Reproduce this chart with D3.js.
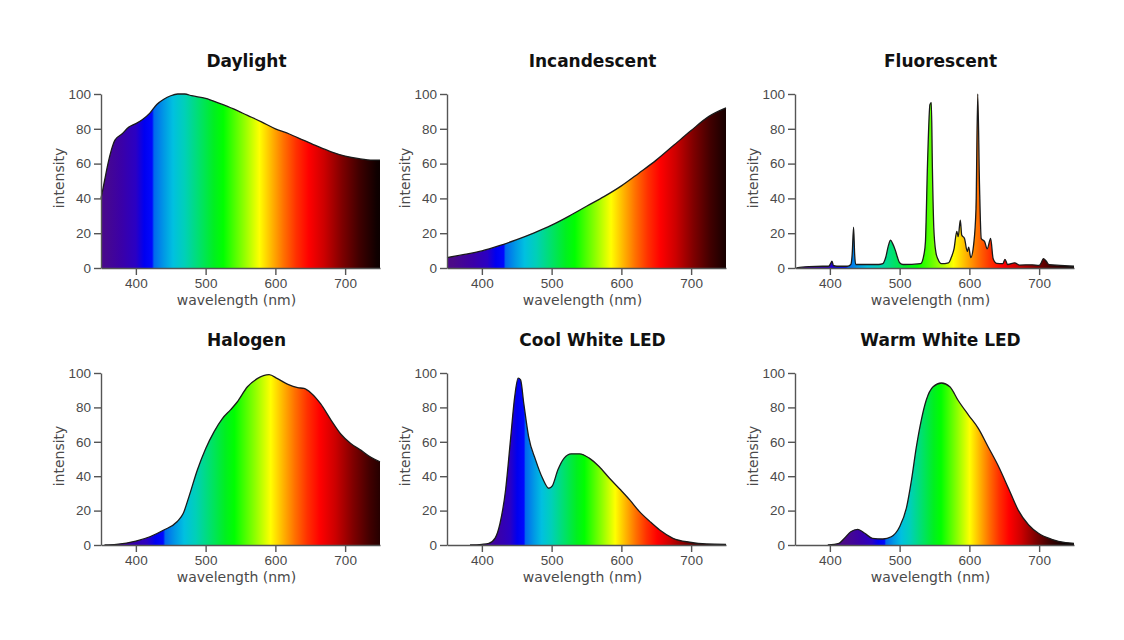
<!DOCTYPE html>
<html>
<head>
<meta charset="utf-8">
<script src="https://cdn.jsdelivr.net/npm/d3@7"></script>
<style>
  body { margin: 0; background: #fff; }
  svg { display: block; font-family: "DejaVu Sans", sans-serif; }
  .axis path, .axis line { stroke: #555; stroke-width: 1.4; }
  .axis text { fill: #4a4a4a; font-size: 13.5px; }
</style>
</head>
<body>
<svg id="chart" width="1124" height="640"></svg>
<script>
// espectros: [comprimento de onda (nm), intensidade]
var daylight = [[350,40],[355,50],[360,60],[365,68],[370,73.5],[380,77],[390,81],[400,83],[410,85.5],[420,89],
  [430,94],[440,97],[450,99],[460,100],[470,100],[480,99],[500,97.5],[520,94.6],[540,91.4],[560,87.7],
  [580,84],[600,80],[620,77],[640,73.5],[660,70],[680,66.8],[700,64.3],[720,62.8],[740,62],[750,62]];

var incandescent = [[350,6],[375,7.8],[400,9.8],[425,12.8],[450,16.3],[475,20.2],[500,24.6],[525,29.8],
  [550,35.5],[575,41],[600,47.2],[625,54.5],[650,62],[675,70.5],[700,79],[725,87],[750,92]];

var fluorescent = [[352,0],[360,0.5],[370,0.8],[390,1],[398,1],[401,2.5],[403,4],[405,1.5],[410,1],[425,1],
  [430,2],[432,8],[434,23.5],[435.5,8],[437,2],[450,2],[470,2],[476,2.5],[480,6],[484,13],[487,16],[490,14],
  [494,10],[497,6],[500,3],[505,2],[530,2.5],[535,8],[537,15],[540,60],[543.5,94],[545.5,95],[547,57],
  [549,23],[552,9],[555,5],[560,2.5],[570,3],[574,6],[578,11],[582,21],[584,18],[587,27.5],[589,19],
  [593,17],[597,9.5],[599,12],[602,6],[606,13],[609.5,34],[612,100],[614.5,48],[617,17],[622,15],
  [625.5,11],[630.5,17],[634,5.5],[639,2.7],[648,2.5],[651,5],[655,2],[665,3],[672,1.7],[690,1.8],
  [700,1.5],[703,3],[706,5.4],[710,4],[714,2],[730,1.5],[750,1]];

var halogen = [[355,0],[372,0.4],[400,2.3],[420,4.8],[440,8.7],[459,13.5],[468,18.4],[476,28],[488,43.5],
  [500,56],[512,65.8],[524,73.5],[536,78.7],[545,83],[560,92],[574,96.7],[591,99],[603,96.7],[618,93.4],
  [632,91.5],[641,91],[651,88.4],[665,82],[680,72.5],[694,64.4],[708,59],[723,55],[737,51],[750,48.4]];

var coolWhite = [[383,0],[400,0.4],[410,1],[419,4],[426,12.6],[434,32],[441,61],[447,86],[452,97],[455.5,96],
  [460,82.5],[467,63],[477,49.5],[487,38.8],[496,33],[501,34.4],[509,43.7],[518,50.5],[528,53],[540,53],
  [554,50.5],[568,45.6],[583,38.8],[598,32.4],[612,26.2],[626,19.4],[641,13.6],[655,8.7],[674,3.9],
  [698,1.6],[722,0.6],[750,0.4]];

var warmWhite = [[397,0],[413,1],[421,4],[430,7.7],[440,9.1],[450,6.8],[461,3.9],[476,3.5],[488,4.8],
  [500,10.6],[510,22],[517,37.7],[524,57],[531,72.5],[538,84],[548,92],[560,94.2],[572,92],[584,84],
  [599,75.4],[613,67.7],[627,57],[642,45.5],[656,33],[670,20.3],[685,11.6],[699,6.8],[718,3.3],
  [738,1.4],[750,1]];

var titulos = ["Daylight", "Incandescent", "Fluorescent", "Halogen", "Cool White LED", "Warm White LED"];
var espectros = [daylight, incandescent, fluorescent, halogen, coolWhite, warmWhite];

var yTicks = [0, 20, 40, 60, 80, 100];
var xTicks = [400, 500, 600, 700];

// cores do arco-íris (posição relativa 0..1 na faixa do gradiente)
var corStops = [[0,"#4b0a88"],[0.075,"#3a00a8"],[0.125,"#2a00c4"],[0.155,"#0000f0"],[0.183,"#0008ff"],
  [0.19,"#0068ee"],[0.225,"#0098e6"],[0.258,"#00c0e0"],[0.3,"#00d0b8"],[0.35,"#00e070"],[0.405,"#00f020"],
  [0.438,"#00ff00"],[0.513,"#90ff00"],[0.568,"#ffff00"],[0.613,"#ffb400"],[0.655,"#ff7000"],[0.7,"#ff3000"],
  [0.745,"#ff0000"],[0.8,"#cc0000"],[0.863,"#800000"],[0.925,"#400000"],[0.988,"#100000"],[1,"#0c0000"]];
// faixa (nm) que o gradiente ocupa em cada painel
var gradIni = [350, 358, 350, 366, 398, 420];
var gradFim = [750, 758, 750, 766, 738, 738];

var colX = [101, 447, 795], larg = 279;
var rowTop = [94, 373], rowBot = [268, 545];

var svg = d3.select("#chart");
var defs = svg.append("defs");

for (var i = 0; i < espectros.length; i++) {
  var c = i % 3, r = Math.floor(i / 3);
  var x = d3.scaleLinear().domain([350, 750]).range([colX[c], colX[c] + larg]);
  var y = d3.scaleLinear().domain([0, 100]).range([rowBot[r], rowTop[r]]);

  var grad = defs.append("linearGradient")
    .attr("id", "grad" + i)
    .attr("gradientUnits", "userSpaceOnUse")
    .attr("x1", x(gradIni[i])).attr("x2", x(gradFim[i])).attr("y1", 0).attr("y2", 0);
  grad.selectAll("stop").data(corStops).enter().append("stop")
    .attr("offset", function (d) { return d[0]; })
    .attr("stop-color", function (d) { return d[1]; });

  var area = d3.area()
    .curve(d3.curveMonotoneX)
    .x(function (d) { return x(d[0]); })
    .y0(y(0))
    .y1(function (d) { return y(d[1]); });
  var linha = d3.line()
    .curve(d3.curveMonotoneX)
    .x(function (d) { return x(d[0]); })
    .y(function (d) { return y(d[1]); });

  svg.append("path").datum(espectros[i])
    .attr("d", area)
    .attr("fill", "url(#grad" + i + ")");
  svg.append("path").datum(espectros[i])
    .attr("d", linha)
    .attr("fill", "none")
    .attr("stroke", "#1a1a1a")
    .attr("stroke-width", 1.3);

  svg.append("g").attr("class", "axis")
    .attr("transform", "translate(0," + rowBot[r] + ")")
    .call(d3.axisBottom(x).tickValues(xTicks).tickSize(7).tickSizeOuter(0).tickPadding(3));
  svg.append("g").attr("class", "axis")
    .attr("transform", "translate(" + colX[c] + ",0)")
    .call(d3.axisLeft(y).tickValues(yTicks).tickSize(7).tickSizeOuter(0).tickPadding(3));

  var meio = colX[c] + larg / 2;
  svg.append("text")
    .attr("x", meio + 6).attr("y", rowTop[r] - 27)
    .attr("text-anchor", "middle")
    .attr("font-size", "17px").attr("font-weight", "bold").attr("fill", "#111")
    .text(titulos[i]);
  svg.append("text")
    .attr("x", meio - 4).attr("y", rowBot[r] + 37)
    .attr("text-anchor", "middle")
    .attr("font-size", "14px").attr("fill", "#4a4a4a")
    .text("wavelength (nm)");
  svg.append("text")
    .attr("transform", "translate(" + (colX[c] - 37) + "," + ((rowTop[r] + rowBot[r]) / 2 - 3) + ") rotate(-90)")
    .attr("text-anchor", "middle")
    .attr("font-size", "14px").attr("fill", "#4a4a4a")
    .text("intensity");
}
</script>
</body>
</html>
